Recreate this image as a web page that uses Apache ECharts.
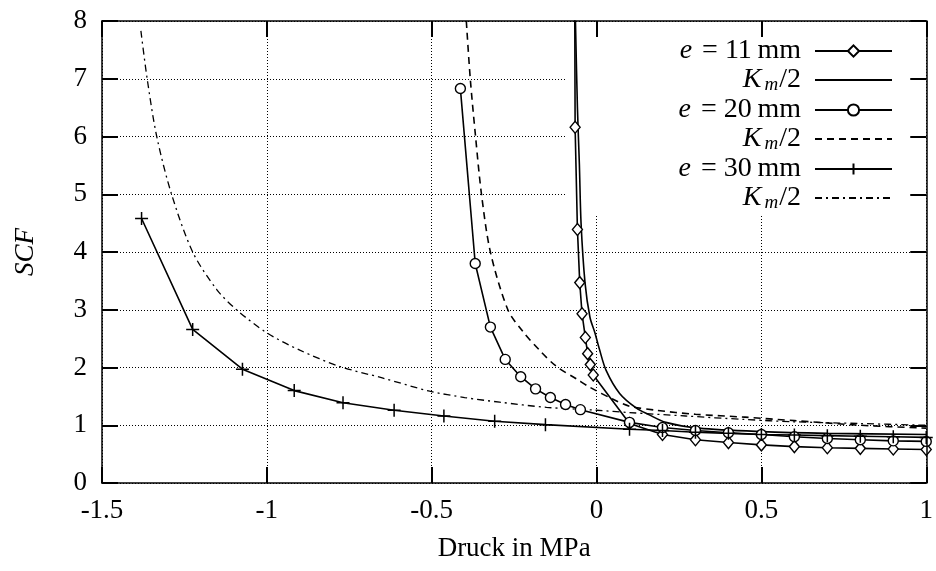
<!DOCTYPE html>
<html>
<head>
<meta charset="utf-8">
<script src="https://cdn.jsdelivr.net/npm/echarts@6/dist/echarts.min.js"></script>
<style>
  html, body { margin: 0; padding: 0; background: #fff; }
  #chart { width: 936px; height: 571px; }
</style>
</head>
<body>
<div id="chart"></div>
<script>
// e = 11 mm, diamonds (first point lies above the plot and gets clipped)
const e11X = [-0.067, -0.065, -0.058, -0.051, -0.044, -0.034, -0.027, -0.019, -0.010, 0.1, 0.2, 0.3, 0.4, 0.5, 0.6, 0.7, 0.8, 0.9, 1.0]
const e11Y = [10.0, 6.16, 4.39, 3.47, 2.93, 2.52, 2.24, 2.05, 1.87, 1.03, 0.84, 0.75, 0.70, 0.66, 0.63, 0.61, 0.60, 0.59, 0.58]
// Km/2 for e = 11 mm, solid
const k11X = [-0.064, -0.058, -0.052, -0.047, -0.035, -0.020, -0.005, 0.009, 0.029, 0.07, 0.12, 0.16, 0.21, 0.31, 0.5, 0.7, 1.0]
const k11Y = [8.0, 6.5, 5.5, 4.5, 3.47, 2.87, 2.6, 2.31, 1.95, 1.55, 1.30, 1.18, 1.05, 0.95, 0.89, 0.86, 0.84]
// e = 20 mm, circles
const e20X = [-0.413, -0.368, -0.322, -0.277, -0.230, -0.185, -0.140, -0.094, -0.049, 0.1, 0.2, 0.3, 0.4, 0.5, 0.6, 0.7, 0.8, 0.9, 1.0]
const e20Y = [6.83, 3.80, 2.70, 2.14, 1.84, 1.63, 1.48, 1.36, 1.27, 1.05, 0.96, 0.91, 0.87, 0.84, 0.80, 0.77, 0.75, 0.73, 0.72]
// Km/2 for e = 20 mm, dashed
const k20X = [-0.395, -0.383, -0.367, -0.349, -0.322, -0.269, -0.223, -0.173, -0.122, -0.06, -0.021, 0.05, 0.1, 0.18, 0.3, 0.45, 0.6, 0.8, 1.0]
const k20Y = [8.0, 7.0, 6.0, 5.0, 4.0, 3.0, 2.62, 2.3, 2.02, 1.8, 1.66, 1.45, 1.33, 1.26, 1.19, 1.14, 1.08, 1.0, 0.95]
// e = 30 mm, plus markers
const e30X = [-1.38, -1.225, -1.074, -0.917, -0.769, -0.614, -0.463, -0.309, -0.155, 0.1, 0.2, 0.3, 0.4, 0.5, 0.6, 0.7, 0.8, 0.9, 1.0]
const e30Y = [4.58, 2.66, 1.97, 1.60, 1.39, 1.26, 1.16, 1.07, 1.01, 0.93, 0.91, 0.88, 0.86, 0.84, 0.83, 0.82, 0.81, 0.80, 0.79]
// Km/2 for e = 30 mm, dash-dot
const k30X = [-1.382, -1.363, -1.334, -1.289, -1.225, -1.152, -1.092, -1.0, -0.9, -0.78, -0.65, -0.506, -0.4, -0.294, -0.152, 0.0, 0.1, 0.27, 0.45, 0.6, 0.8, 1.0]
const k30Y = [7.83, 7.0, 6.0, 5.0, 4.0, 3.35, 3.0, 2.6, 2.3, 2.02, 1.82, 1.59, 1.48, 1.40, 1.31, 1.26, 1.22, 1.16, 1.10, 1.06, 1.03, 1.0]

const xTicks = ['-1.5', '-1', '-0.5', '0', '0.5', '1']

const FONT = 'Liberation Serif'
const pairs = (xs, ys) => xs.map((x, i) => [x, ys[i]])

const legendText = {
  e11: '{i|e}{t| = 11\u2009mm}',
  k11: '{i|K}{s|m}{t|/2}',
  e20: '{i|e}{t| = 20\u2009mm}',
  k20: '{i|K}{s|m}{t|/2}',
  e30: '{i|e}{t| = 30\u2009mm}',
  k30: '{i|K}{s|m}{t|/2}'
}
const legendNames = ['e11', 'k11', 'e20', 'k20', 'e30', 'k30']
const legendTops = [37, 66, 96, 125, 155, 184]
const plainLines = ['k11', 'k20', 'k30']

const rich = {
  i: { fontFamily: FONT, fontSize: 28, fontStyle: 'italic', color: '#000', lineHeight: 28, padding: [0, 3, 0, 0] },
  t: { fontFamily: FONT, fontSize: 28, color: '#000', lineHeight: 28, padding: [0, 9, 0, 0] },
  s: { fontFamily: FONT, fontSize: 19, fontStyle: 'italic', color: '#000', lineHeight: 2, verticalAlign: 'bottom', padding: [0, 1, 0, 0] }
}

const chart = echarts.init(document.getElementById('chart'), null, { renderer: 'canvas' })

const markerStyle = { color: '#fff', borderColor: '#000', borderWidth: 1.4 }
const line = (w, type) => ({ color: '#000', width: w, type: type })
const tick = () => ({ show: true, inside: true, length: 16, lineStyle: { color: '#000', width: 2 } })
const frameLine = () => ({ show: true, onZero: false, lineStyle: { color: '#000', width: 1.5 } })
const grid = () => ({ show: true, lineStyle: { color: '#000', width: 1, type: [1, 2] } })

chart.setOption({
  animation: false,
  backgroundColor: '#fff',
  textStyle: { fontFamily: FONT, color: '#000' },
  grid: { left: 102, right: 9, top: 21, bottom: 88 },
  graphic: [{
    type: 'rect',
    z: 1,
    shape: { x: 566, y: 23, width: 359, height: 193 },
    style: { fill: '#fff' }
  }],
  legend: legendNames.map((n, k) => ({
    data: [plainLines.includes(n)
      ? { name: n, itemStyle: { opacity: 0 } }
      : { name: n }],
    right: 43,
    top: legendTops[k],
    padding: 0,
    align: 'right',
    itemWidth: 77,
    itemHeight: 14,
    selectedMode: false,
    formatter: name => legendText[name],
    textStyle: { rich: rich }
  })),
  xAxis: [{
    type: 'value',
    min: -1.5,
    max: 1,
    interval: 0.5,
    name: 'Druck in MPa',
    nameLocation: 'middle',
    nameGap: 52,
    nameTextStyle: { fontFamily: FONT, fontSize: 27, color: '#000' },
    axisLine: frameLine(),
    axisTick: tick(),
    axisLabel: {
      margin: 14, fontFamily: FONT, fontSize: 27, color: '#000',
      formatter: v => xTicks[Math.round((v + 1.5) / 0.5)]
    },
    splitLine: grid()
  }, {
    type: 'value',
    position: 'top',
    min: -1.5,
    max: 1,
    interval: 0.5,
    z: 10,
    axisLine: frameLine(),
    axisTick: tick(),
    axisLabel: { show: false },
    splitLine: { show: false }
  }],
  yAxis: [{
    type: 'value',
    min: 0,
    max: 8,
    interval: 1,
    name: 'SCF',
    nameLocation: 'middle',
    nameGap: 63,
    nameTextStyle: { fontFamily: FONT, fontSize: 27, fontStyle: 'italic', color: '#000' },
    axisLine: frameLine(),
    axisTick: tick(),
    axisLabel: { margin: 15, fontFamily: FONT, fontSize: 27, color: '#000' },
    splitLine: grid()
  }, {
    type: 'value',
    position: 'right',
    min: 0,
    max: 8,
    interval: 1,
    z: 10,
    axisLine: frameLine(),
    axisTick: tick(),
    axisLabel: { show: false },
    splitLine: { show: false }
  }],
  series: [{
    name: 'e11', type: 'line', data: pairs(e11X, e11Y),
    symbol: 'diamond', symbolSize: [10, 12],
    itemStyle: markerStyle, lineStyle: line(1.6, 'solid'), z: 3
  }, {
    name: 'k11', type: 'line', data: pairs(k11X, k11Y), smooth: 0.3,
    symbol: 'none', itemStyle: { color: '#000' }, lineStyle: line(1.6, 'solid')
  }, {
    name: 'e20', type: 'line', data: pairs(e20X, e20Y),
    symbol: 'circle', symbolSize: 10,
    itemStyle: markerStyle, lineStyle: line(1.6, 'solid'), z: 3
  }, {
    name: 'k20', type: 'line', data: pairs(k20X, k20Y), smooth: 0.3,
    symbol: 'none', itemStyle: { color: '#000' }, lineStyle: line(1.6, [7, 5])
  }, {
    name: 'e30', type: 'line', data: pairs(e30X, e30Y),
    symbol: 'path://M0,5L10,5M5,0L5,10', symbolSize: 13,
    itemStyle: { color: '#000', borderColor: '#000', borderWidth: 1.5 },
    lineStyle: line(1.6, 'solid'), z: 3
  }, {
    name: 'k30', type: 'line', data: pairs(k30X, k30Y), smooth: 0.3,
    symbol: 'none', itemStyle: { color: '#000' }, lineStyle: line(1.3, [7, 4, 2, 4])
  }]
})
</script>
</body>
</html>
